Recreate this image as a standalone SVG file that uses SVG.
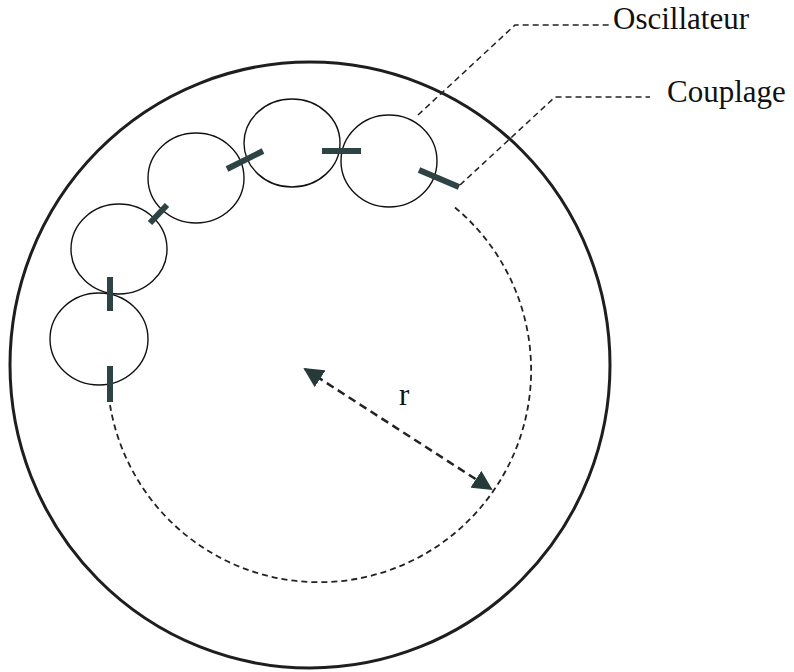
<svg xmlns="http://www.w3.org/2000/svg" width="794" height="672" viewBox="0 0 794 672">
<defs>
<style>
.osc{fill:none;stroke:#111;stroke-width:1.4}
.cpl{stroke:#2e4444;stroke-width:6;stroke-linecap:butt}
.lead{fill:none;stroke:#222;stroke-width:1.5;stroke-dasharray:6 4}
.arc{fill:none;stroke:#222;stroke-width:1.8;stroke-dasharray:6 4}
.rad{fill:none;stroke:#222;stroke-width:2.5;stroke-dasharray:8 5}
.lbl{font-family:"Liberation Serif","Times New Roman",serif;font-size:31px;fill:#111}
</style>
<marker id="ah" viewBox="0 0 10 10" refX="9" refY="5" markerWidth="8" markerHeight="8" markerUnits="strokeWidth" orient="auto-start-reverse">
<path d="M0,0 L10,5 L0,10 z" fill="#263a3a"/>
</marker>
</defs>
<rect width="794" height="672" fill="#fff"/>
<g id="ring">
<ellipse cx="310" cy="365" rx="300" ry="303" fill="none" stroke="#1e1e1e" stroke-width="3"/>
</g>
<g id="oscillators">
<g id="osc1"><ellipse class="osc" cx="99" cy="339" rx="49" ry="46"/></g>
<g id="osc2"><ellipse class="osc" cx="119" cy="249" rx="48" ry="45"/></g>
<g id="osc3"><ellipse class="osc" cx="196" cy="178" rx="48" ry="45"/></g>
<g id="osc4"><ellipse class="osc" cx="292" cy="143" rx="48" ry="44"/></g>
<g id="osc5"><ellipse class="osc" cx="389" cy="161" rx="48" ry="46"/></g>
</g>
<g id="couplers">
<line class="cpl" x1="110" y1="366" x2="110" y2="402"/>
<line class="cpl" x1="110" y1="277" x2="110" y2="311"/>
<line class="cpl" x1="150" y1="223" x2="167" y2="205"/>
<line class="cpl" x1="227" y1="169" x2="263" y2="151"/>
<line class="cpl" x1="322" y1="151" x2="361" y2="151"/>
<line class="cpl" x1="419" y1="170" x2="459" y2="187"/>
</g>
<g id="connectors">
<path class="arc" d="M110,405 A212,212 0 1 0 452,205"/>
<path class="lead" d="M418,115 L515,25 L612,25"/>
<path class="lead" d="M460,185 L555,97 L650,97"/>
<line class="rad" x1="305" y1="369" x2="491" y2="489" marker-start="url(#ah)" marker-end="url(#ah)"/>
</g>
<g id="labels">
<text class="lbl" x="613" y="29">Oscillateur</text>
<text class="lbl" x="667" y="102">Couplage</text>
<text class="lbl" x="399" y="405">r</text>
</g>
</svg>
